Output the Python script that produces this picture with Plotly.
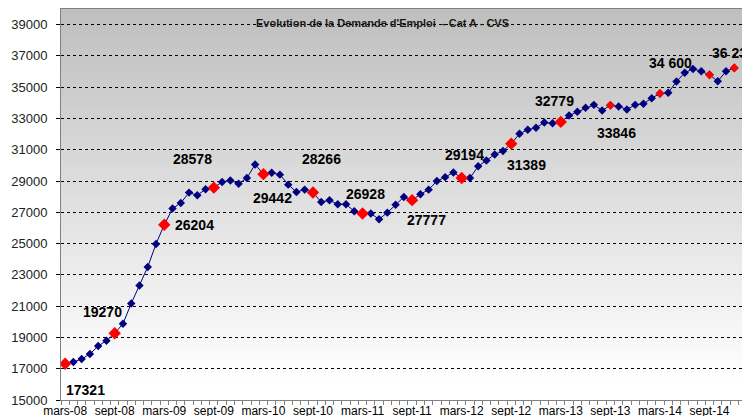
import plotly.graph_objects as go

# --- data (Cat A, CVS, monthly from mars-08) ---
mois_fr = ["janv", "févr", "mars", "avr", "mai", "juin",
           "juil", "août", "sept", "oct", "nov", "déc"]

demande = [17321, 17430, 17620, 17940, 18450, 18790, 19270, 19870, 21170, 22320,
           23510, 24980, 26204, 27240, 27600, 28260, 28090, 28470, 28578, 28940,
           29040, 28830, 29190, 30060, 29442, 29530, 29410, 28770, 28300, 28450,
           28266, 27660, 27770, 27510, 27510, 27070, 26928, 26920, 26560, 26980,
           27490, 27980, 27777, 28150, 28450, 29000, 29250, 29550, 29194, 29200,
           29940, 30320, 30700, 30920, 31389, 32020, 32280, 32410, 32740, 32700,
           32779, 33190, 33430, 33680, 33870, 33510, 33846, 33770, 33580, 33870,
           33940, 34300, 34600, 34640, 35360, 35920, 36170, 36020, 35790, 35380,
           36020, 36234]

# month labels, starting mars 2008
categories = []
for k in range(len(demande)):
    m = (2 + k) % 12
    y = 8 + (2 + k) // 12
    categories.append(f"{mois_fr[m]}-{y:02d}")

tick_labels = ["mars-08", "sept-08", "mars-09", "sept-09", "mars-10", "sept-10", "mars-11",
               "sept-11", "mars-12", "sept-12", "mars-13", "sept-13", "mars-14", "sept-14"]

# highlighted (red) points and their labels
red_big = [0, 6, 12, 18, 24, 30, 36, 42, 48, 54, 60]
red_small = [66, 72, 78, 81]
label_idx = [0, 6, 12, 18, 24, 30, 36, 42, 48, 54, 60, 66, 72, 81]
label_text = ["17321", "19270", "26204", "28578", "29442", "28266", "26928",
              "27777", "29194", "31389", "32779", "33846", "34 600", "36 234"]
# label offsets in pixels (dx, dy up)
label_off = [(20, -26), (-12, 21), (30, 0), (-21, 29), (9, -24), (9, 34), (3, 19),
             (14, -20), (3, 23), (15, -21), (-6, 21), (6, -28), (11, 30), (-1, 15)]

x = list(range(len(demande)))
tick_pos = [categories.index(t) for t in tick_labels]

fig = go.Figure()

# grey -> white gradient background of the plot area
n_bands = 80
for b in range(n_bands):
    f = (b + 0.5) / n_bands
    c = 191 + 64 * (1 - f) / 0.95
    c = int(max(191, min(255, c)))
    fig.add_shape(type="rect", xref="paper", yref="paper", x0=0, x1=1,
                  y0=b / n_bands, y1=(b + 1) / n_bands + 0.002,
                  fillcolor=f"rgb({c},{c},{c})", line_width=0, layer="below")

fig.add_trace(go.Scatter(
    x=x, y=demande, mode="lines+markers", text=categories,
    line=dict(color="#000080", width=1),
    marker=dict(symbol="diamond", size=6.5, color="#000080"),
    hovertemplate="%{text}: %{y}<extra></extra>", showlegend=False))

fig.add_trace(go.Scatter(
    x=red_big, y=[demande[i] for i in red_big], mode="markers",
    marker=dict(symbol="diamond", size=9.5, color="#ff0000"),
    hoverinfo="skip", showlegend=False))
fig.add_trace(go.Scatter(
    x=red_small, y=[demande[i] for i in red_small], mode="markers",
    marker=dict(symbol="diamond", size=7, color="#ff0000"),
    hoverinfo="skip", showlegend=False))

for i, t, (dx, dy) in zip(label_idx, label_text, label_off):
    fig.add_annotation(x=i, y=demande[i], text=t, showarrow=False,
                       xshift=dx, yshift=dy,
                       font=dict(family="Liberation Sans, Arial", size=14, color="black", weight="bold"))

fig.add_annotation(x=0.467, y=0.964, xref="paper", yref="paper",
                   xanchor="center", yanchor="middle",
                   text="Evolution de la Demande d'Emploi  - Cat A - CVS", showarrow=False,
                   font=dict(family="Liberation Sans, Arial", size=11, color="#1a1a1a", weight="bold"))

fig.update_xaxes(
    range=[-0.5, 82.9], tickmode="array", tickvals=tick_pos, ticktext=tick_labels,
    ticks="", automargin=False,
    minor=dict(ticks="outside", tick0=0.5, dtick=1, ticklen=4, tickcolor="#808080", showgrid=False),
    showline=True, linecolor="#808080", linewidth=1, mirror=True, showgrid=False, zeroline=False,
    tickfont=dict(family="Liberation Sans, Arial", size=12, color="black"))

fig.update_yaxes(
    range=[15000, 40000], tick0=15000, dtick=2000, tickformat="d",
    ticks="outside", ticklen=4, tickcolor="black", automargin=False,
    showline=True, linecolor="#808080", linewidth=1,
    showgrid=True, gridcolor="black", griddash="dot", gridwidth=1, zeroline=False,
    tickfont=dict(family="Liberation Sans, Arial", size=13, color="#222"),
    ticklabelstandoff=6)

# page body adds an 8px offset, so the figure is sized to fit the window
fig.update_layout(
    width=742, height=408,
    margin=dict(l=53, r=0, t=1, b=16),
    paper_bgcolor="white", plot_bgcolor="white",
    showlegend=False)

fig.write_html("out.html")
